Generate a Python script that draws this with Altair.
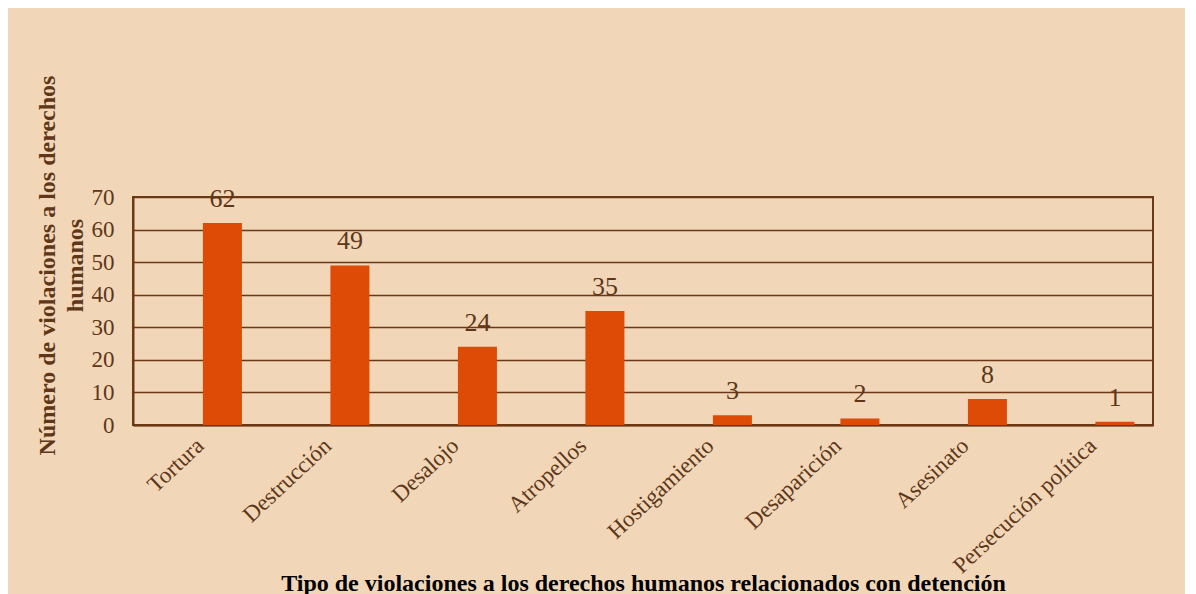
import altair as alt
import pandas as pd

categories = ["Tortura", "Destrucción", "Desalojo", "Atropellos", "Hostigamiento",
              "Desaparición", "Asesinato", "Persecución política"]
values = [62, 49, 24, 35, 3, 2, 8, 1]
y_ticks = [0, 10, 20, 30, 40, 50, 60, 70]

df = pd.DataFrame({"cat": categories, "val": values})

FONT = "Liberation Serif"
BROWN = "#6B3A14"
TXT = "#5E3719"
BAR = "#DD4B06"
BG = "#F1D6B8"

x = alt.X("cat:N", sort=categories,
          scale=alt.Scale(paddingInner=0.694, paddingOuter=0.347, align=0.79),
          axis=alt.Axis(title="Tipo de violaciones a los derechos humanos relacionados con detención",
                        titleFont=FONT, titleFontSize=24, titleFontWeight="bold", titleColor="#000000",
                        titleY=165, titleBaseline="alphabetic",
                        labelAngle=-43, labelAlign="right", labelBaseline="middle",
                        labelFont=FONT, labelFontSize=23, labelColor=TXT,
                        labelOffset=-22, labelPadding=17, labelOverlap=False, labelLimit=0,
                        ticks=False, domainColor=BROWN, domainWidth=2))

y = alt.Y("val:Q",
          scale=alt.Scale(domain=[0, 70], nice=False),
          axis=alt.Axis(values=y_ticks,
                        title=["Número de violaciones a los derechos", "humanos"],
                        titleFont=FONT, titleFontSize=24, titleFontWeight="bold", titleColor=TXT,
                        titleAngle=270, titleAlign="center", titleBaseline="middle",
                        titleLineHeight=28, titleX=-86, titleY=68,
                        labelFont=FONT, labelFontSize=23, labelColor=TXT, labelPadding=19,
                        labelOverlap=False, labelBaseline="middle",
                        ticks=False, domainColor=BROWN, domainWidth=2,
                        grid=True, gridColor=BROWN, gridWidth=1.6, gridOpacity=1))

bars = alt.Chart(df).mark_bar(color=BAR).encode(x=x, y=y)
labels = alt.Chart(df).mark_text(font=FONT, fontSize=26, color=TXT, dy=-16,
                                 baseline="alphabetic").encode(x=x, y=y, text="val:Q")

chart = (bars + labels).properties(
    width=1020, height=228,
    autosize=alt.AutoSizeParams(type="none"),
    padding={"left": 125, "top": 189, "right": 32, "bottom": 169},
    background=BG,
).configure_view(stroke=BROWN, strokeWidth=2)

chart.save("out.html", embed_options={"renderer": "svg", "actions": False})
